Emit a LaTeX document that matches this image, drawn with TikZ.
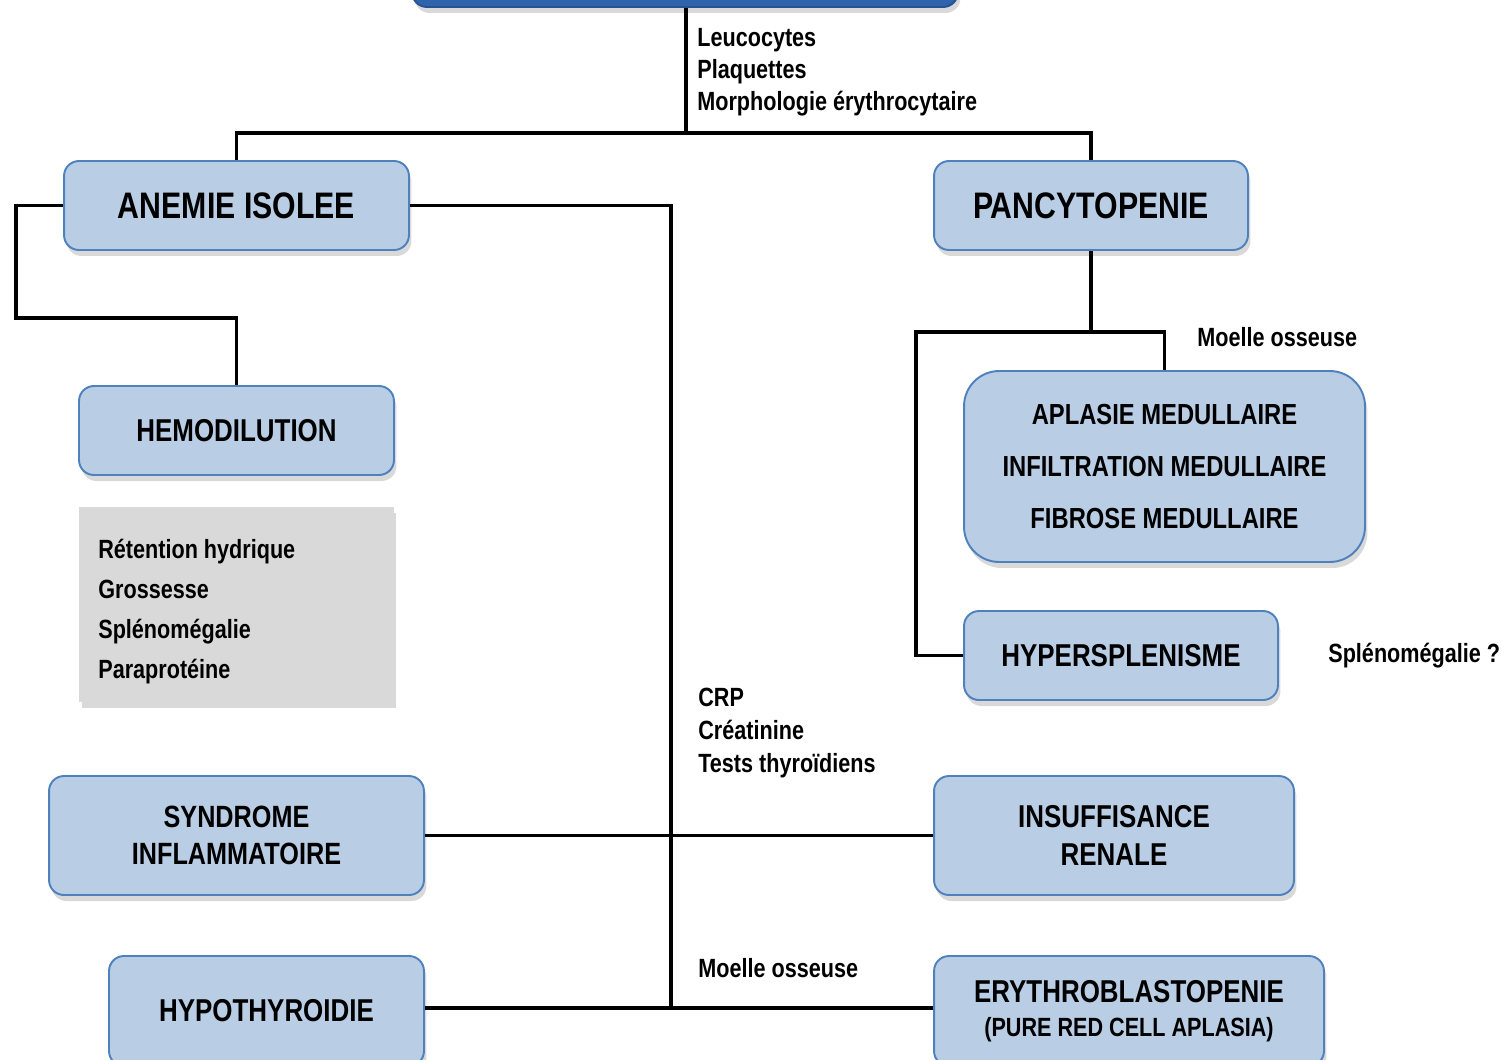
\documentclass[tikz,border=0pt]{standalone}
\usepackage{fontspec}
\setmainfont{Liberation Sans}[FakeStretch=0.82]
\usepackage{tikz}
\usetikzlibrary{shadows}
\definecolor{boxfill}{RGB}{185,205,229}
\definecolor{boxline}{RGB}{79,129,189}
\definecolor{topfill}{RGB}{47,99,172}
\definecolor{topline}{RGB}{38,82,148}
\definecolor{notefill}{RGB}{217,217,217}
\tikzset{
  diag/.style={rectangle, draw=boxline, fill=boxfill, line width=1.1pt,
    rounded corners=8.5pt, align=center, inner sep=0pt,
    drop shadow={shadow xshift=0.5mm, shadow yshift=-1.2mm, opacity=0.3}},
  bigtxt/.style={font=\fontsize{21}{25}\selectfont\bfseries},
  midtxt/.style={font=\fontsize{18}{21.5}\selectfont\bfseries},
  note/.style={font=\fontsize{15}{18}\selectfont\bfseries, anchor=base west, inner sep=0pt},
  link/.style={line width=1.9pt, black}
}

\begin{document}
\begin{tikzpicture}[x=0.02cm, y=-0.02cm]
  \useasboundingbox (0,0) rectangle (1511,1059);
  \clip (0,0) rectangle (1511,1059);

  % boxes
  \node[diag, draw=topline, fill=topfill, minimum width=10.92cm, minimum height=1.6cm] (bilan) at (685,-33) {};
  \node[diag, bigtxt, minimum width=6.9cm, minimum height=1.78cm] (anemie) at (236.5,205.5) {ANEMIE ISOLEE};
  \node[diag, bigtxt, minimum width=6.28cm, minimum height=1.78cm] (pancyto) at (1091,205.5) {PANCYTOPENIE};
  \node[diag, midtxt, minimum width=6.3cm, minimum height=1.78cm] (hemo) at (236.5,430.5) {HEMODILUTION};
  \node[fill=notefill, minimum width=6.3cm, minimum height=3.9cm, inner sep=0pt,
    drop shadow={shadow xshift=0.5mm, shadow yshift=-1.2mm, opacity=0.3}] (causes) at (236.5,604.5) {};
  \node[diag, rounded corners=20pt, font=\fontsize{16.5}{29.8}\selectfont\bfseries,
    minimum width=8.02cm, minimum height=3.82cm] (moelle) at (1164.5,466.5)
    {APLASIE MEDULLAIRE\\INFILTRATION MEDULLAIRE\\FIBROSE MEDULLAIRE};
  \node[diag, midtxt, minimum width=6.28cm, minimum height=1.78cm] (hyper) at (1121,655.5) {HYPERSPLENISME};
  \node[diag, font=\fontsize{17.5}{21.5}\selectfont\bfseries, minimum width=7.5cm, minimum height=2.38cm] (syndrome) at (236.5,835.5) {SYNDROME\\INFLAMMATOIRE};
  \node[diag, midtxt, minimum width=7.2cm, minimum height=2.38cm] (renal) at (1114,835.5) {INSUFFISANCE\\RENALE};
  \node[diag, midtxt, minimum width=6.3cm, minimum height=2.2cm] (thyro) at (266.5,1011) {HYPOTHYROIDIE};
  \node[diag, midtxt, minimum width=7.8cm, minimum height=2.2cm] (erythro) at (1129,1011)
    {ERYTHROBLASTOPENIE\\[-2pt]{\fontsize{15}{18}\selectfont(PURE RED CELL APLASIA)}};

  % labels
  \foreach \txt [count=\i] in {Leucocytes, Plaquettes, Morphologie érythrocytaire}
    \node[note] (fns\i) at (697,14+32*\i) {\txt};
  \foreach \txt [count=\i] in {Rétention hydrique, Grossesse, Splénomégalie, Paraprotéine}
    \node[note] (cause\i) at (98,518+40*\i) {\txt};
  \foreach \txt [count=\i] in {CRP, Créatinine, Tests thyroïdiens}
    \node[note] (bio\i) at (698,673+33*\i) {\txt};
  \node[note] (myelo) at (698,977) {Moelle osseuse};
  \node[note] (myelo2) at (1197,346) {Moelle osseuse};
  \node[note] (rate) at (1328,662) {Splénomégalie ?};

  % connectors
  \coordinate (split) at (686,133);
  \coordinate (hemoturn) at (16,318);
  \coordinate (trunk) at (671,1008);
  \coordinate (pansplit) at (1091,332);
  \coordinate (hypturn) at (916,332);
  \draw[link] (bilan.south -| split) -- (split);
  \draw[link] (anemie.north) |- (split) -| (pancyto.north);
  \draw[link] (anemie.west) -| (hemoturn) -| (hemo.north);
  \draw[link] (anemie.east) -| (trunk);
  \draw[link] (syndrome.east) -- (renal.west);
  \draw[link] (thyro.east |- trunk) -- (erythro.west |- trunk);
  \draw[link] (pancyto.south) -- (pansplit);
  \draw[link] (moelle.north) |- (hypturn) |- (hyper.west);
\end{tikzpicture}
\end{document}
